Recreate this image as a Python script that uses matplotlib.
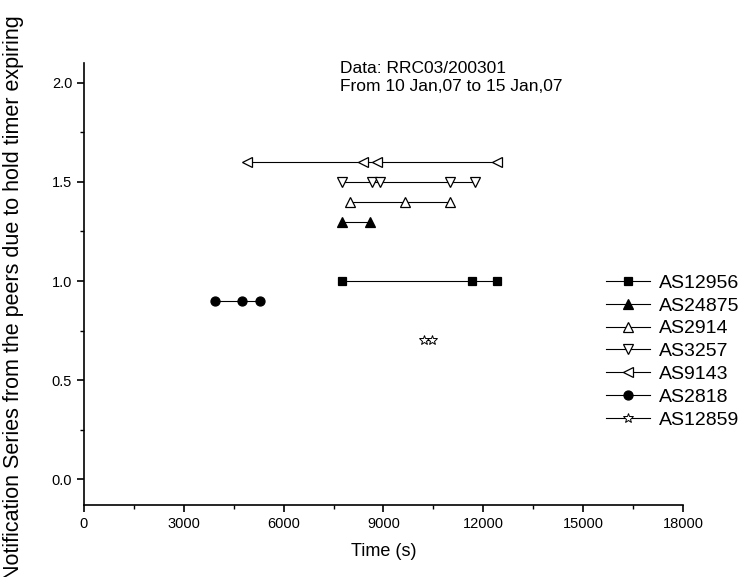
import matplotlib
matplotlib.use('Agg')
import matplotlib.pyplot as plt
from matplotlib.ticker import MultipleLocator

plt.rcParams['font.family'] = ['Liberation Sans', 'DejaVu Sans']

# séries (tempo em s, nível da série)
t_as12956 = [7750, 11650, 12400]
y_as12956 = [1.0, 1.0, 1.0]
t_as24875 = [7750, 8600]
y_as24875 = [1.3, 1.3]
t_as2914 = [8000, 9650, 11000]
y_as2914 = [1.4, 1.4, 1.4]
t_as3257 = [7750, 8650, 8900, 11000, 11750]
y_as3257 = [1.5, 1.5, 1.5, 1.5, 1.5]
t_as9143 = [4900, 8400, 8800, 12400]
y_as9143 = [1.6, 1.6, 1.6, 1.6]
t_as2818 = [3950, 4750, 5300]
y_as2818 = [0.9, 0.9, 0.9]
t_as12859 = [10230, 10470]
y_as12859 = [0.7, 0.7]

fig = plt.figure(figsize=(7.49, 5.77), dpi=100)
ax = fig.add_axes([0.1121, 0.1248, 0.7997, 0.766])

kw = dict(color='black', lw=0.8, mec='black', mew=0.9)
ax.plot(t_as12956, y_as12956, marker='s', ms=6, mfc='black', label='AS12956', **kw)
ax.plot(t_as24875, y_as24875, marker='^', ms=7.5, mfc='black', label='AS24875', **kw)
ax.plot(t_as2914, y_as2914, marker='^', ms=7.5, mfc='white', label='AS2914', **kw)
ax.plot(t_as3257, y_as3257, marker='v', ms=7.5, mfc='white', label='AS3257', **kw)
ax.plot(t_as9143, y_as9143, marker='<', ms=7.5, mfc='white', label='AS9143', **kw)
ax.plot(t_as2818, y_as2818, marker='o', ms=6.5, mfc='black', label='AS2818', **kw)
ax.plot(t_as12859, y_as12859, marker='*', ms=7.5, mfc='white', label='AS12859',
        color='black', lw=0.8, mec='black', mew=0.7)

ax.set_xlim(0, 18000)
ax.set_ylim(-0.13, 2.1)
ax.xaxis.set_major_locator(MultipleLocator(3000))
ax.xaxis.set_minor_locator(MultipleLocator(1500))
ax.yaxis.set_minor_locator(MultipleLocator(0.25))
ax.set_yticks([0.0, 0.5, 1.0, 1.5, 2.0])
ax.set_yticklabels(['0.0', '0.5', '1.0', '1.5', '2.0'])

for s in ['top', 'right']:
    ax.spines[s].set_visible(False)
for s in ['left', 'bottom']:
    ax.spines[s].set_linewidth(1.2)
ax.tick_params(which='major', direction='out', length=5, width=1.2, labelsize=10.5)
ax.tick_params(which='minor', direction='out', length=3, width=1.0)

ax.set_xlabel('Time (s)', fontsize=13, labelpad=9)
ax.set_ylabel('Notification Series from the peers due to hold timer expiring',
              fontsize=15.5)
ax.yaxis.set_label_coords(-0.1, 0.47)

ax.text(0.427, 1.005, 'Data: RRC03/200301\nFrom 10 Jan,07 to 15 Jan,07',
        transform=ax.transAxes, fontsize=12.5, va='top', ha='left', linespacing=1.3)

leg = ax.legend(frameon=False, loc='upper left', bbox_to_anchor=(0.858, 0.54),
                fontsize=14, handlelength=2.3, handletextpad=0.45, labelspacing=0.27,
                borderaxespad=0)

fig.savefig('out.png', dpi=100)
